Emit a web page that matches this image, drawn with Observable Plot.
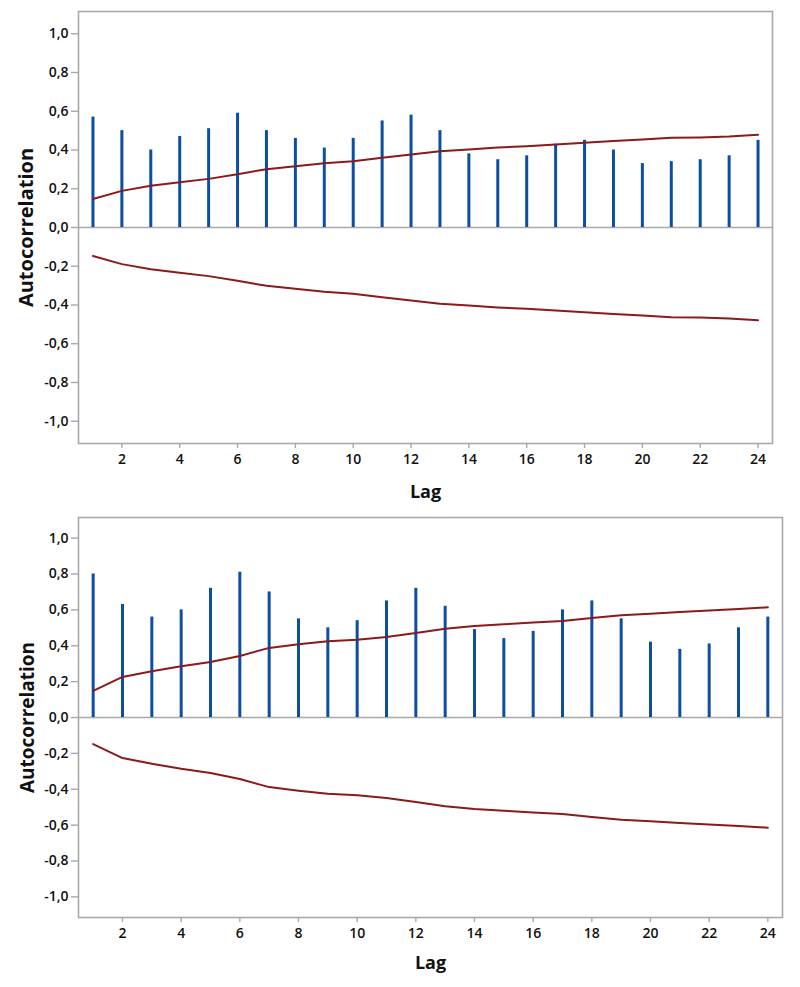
<!DOCTYPE html>
<html>
<head>
<meta charset="utf-8">
<script src="https://cdn.jsdelivr.net/npm/d3@7"></script>
<script src="https://cdn.jsdelivr.net/npm/@observablehq/plot@0.6"></script>
<style>
  html, body { margin: 0; padding: 0; background: #ffffff; }
  #chart svg { display: block; }
</style>
</head>
<body>
<div id="chart"></div>
<script>
// Lags
const lags = [1, 2, 3, 4, 5, 6, 7, 8, 9, 10, 11, 12, 13, 14, 15, 16, 17, 18, 19, 20, 21, 22, 23, 24];

// Top panel: autocorrelations and significance limits (±)
const acfTop = [0.57, 0.50, 0.40, 0.47, 0.51, 0.59, 0.50, 0.46, 0.41, 0.46, 0.55, 0.58,
                0.50, 0.38, 0.35, 0.37, 0.43, 0.45, 0.40, 0.33, 0.34, 0.35, 0.37, 0.45];
const limitTop = [0.147, 0.189, 0.216, 0.234, 0.251, 0.275, 0.301, 0.316, 0.332, 0.342, 0.360, 0.377,
                  0.394, 0.403, 0.413, 0.420, 0.429, 0.437, 0.446, 0.454, 0.463, 0.465, 0.470, 0.479];

// Bottom panel
const acfBottom = [0.80, 0.63, 0.56, 0.60, 0.72, 0.81, 0.70, 0.55, 0.50, 0.54, 0.65, 0.72,
                   0.62, 0.49, 0.44, 0.48, 0.60, 0.65, 0.55, 0.42, 0.38, 0.41, 0.50, 0.56];
const limitBottom = [0.148, 0.226, 0.258, 0.286, 0.310, 0.343, 0.388, 0.408, 0.425, 0.434, 0.449, 0.471,
                     0.495, 0.510, 0.520, 0.529, 0.538, 0.555, 0.570, 0.579, 0.588, 0.597, 0.605, 0.614];

// Tick values and labels
const yTicks = [-1.0, -0.8, -0.6, -0.4, -0.2, 0.0, 0.2, 0.4, 0.6, 0.8, 1.0];
const xTicks = [2, 4, 6, 8, 10, 12, 14, 16, 18, 20, 22, 24];
const yLabel = "Autocorrelation";
const xLabel = "Lag";

const fmt = d => d.toFixed(1).replace(".", ",");
const grey = "#a9a9a9";
const barColor = "#0b4ea2";
const limitColor = "#8b1a1a";

function acfPlot({acf, limit, height, marginTop, marginRight, marginBottom, yLabelSize, yLabelDx, xLabelDy}) {
  const rows = lags.map((lag, i) => ({lag, acf: acf[i], upper: limit[i], lower: -limit[i]}));
  return Plot.plot({
    width: 800,
    height,
    marginTop,
    marginRight,
    marginBottom,
    marginLeft: 78,
    style: {
      fontFamily: "'Open Sans', sans-serif",
      fontSize: "14px",
      fontWeight: 600,
      color: "#111",
      background: "#ffffff"
    },
    x: {domain: [0.5, 24.5]},
    y: {domain: [-1.115, 1.115]},
    marks: [
      Plot.ruleY([0], {stroke: grey, strokeWidth: 1.6}),
      Plot.axisY(yTicks, {tickFormat: fmt, tickSize: 7, tickPadding: 3, stroke: grey, strokeWidth: 1.4, fill: "#111", label: null}),
      Plot.axisX(xTicks, {tickSize: 5, tickPadding: 6, stroke: grey, strokeWidth: 1.4, fill: "#111", label: null}),
      Plot.ruleX(rows, {x: "lag", y1: 0, y2: "acf", stroke: barColor, strokeWidth: 3}),
      Plot.line(rows, {x: "lag", y: "upper", stroke: limitColor, strokeWidth: 2}),
      Plot.line(rows, {x: "lag", y: "lower", stroke: limitColor, strokeWidth: 2}),
      Plot.frame({stroke: grey, strokeWidth: 1.6}),
      Plot.text([yLabel], {text: d => d, frameAnchor: "left", textAnchor: "middle", rotate: -90, dx: yLabelDx,
                           lineAnchor: "middle", fontSize: yLabelSize, fontWeight: 700, fill: "#111"}),
      Plot.text([xLabel], {text: d => d, frameAnchor: "bottom", textAnchor: "middle", dy: xLabelDy,
                           lineAnchor: "middle", fontSize: 18, fontWeight: 700, fill: "#111"})
    ]
  });
}

const chart = document.getElementById("chart");
chart.append(acfPlot({
  acf: acfTop, limit: limitTop,
  height: 505, marginTop: 11, marginRight: 28, marginBottom: 62,
  yLabelSize: 20, yLabelDx: -51.5, xLabelDy: 48.5
}));
chart.append(acfPlot({
  acf: acfBottom, limit: limitBottom,
  height: 482, marginTop: 12, marginRight: 18, marginBottom: 70,
  yLabelSize: 19, yLabelDx: -51, xLabelDy: 45.5
}));
</script>
</body>
</html>
